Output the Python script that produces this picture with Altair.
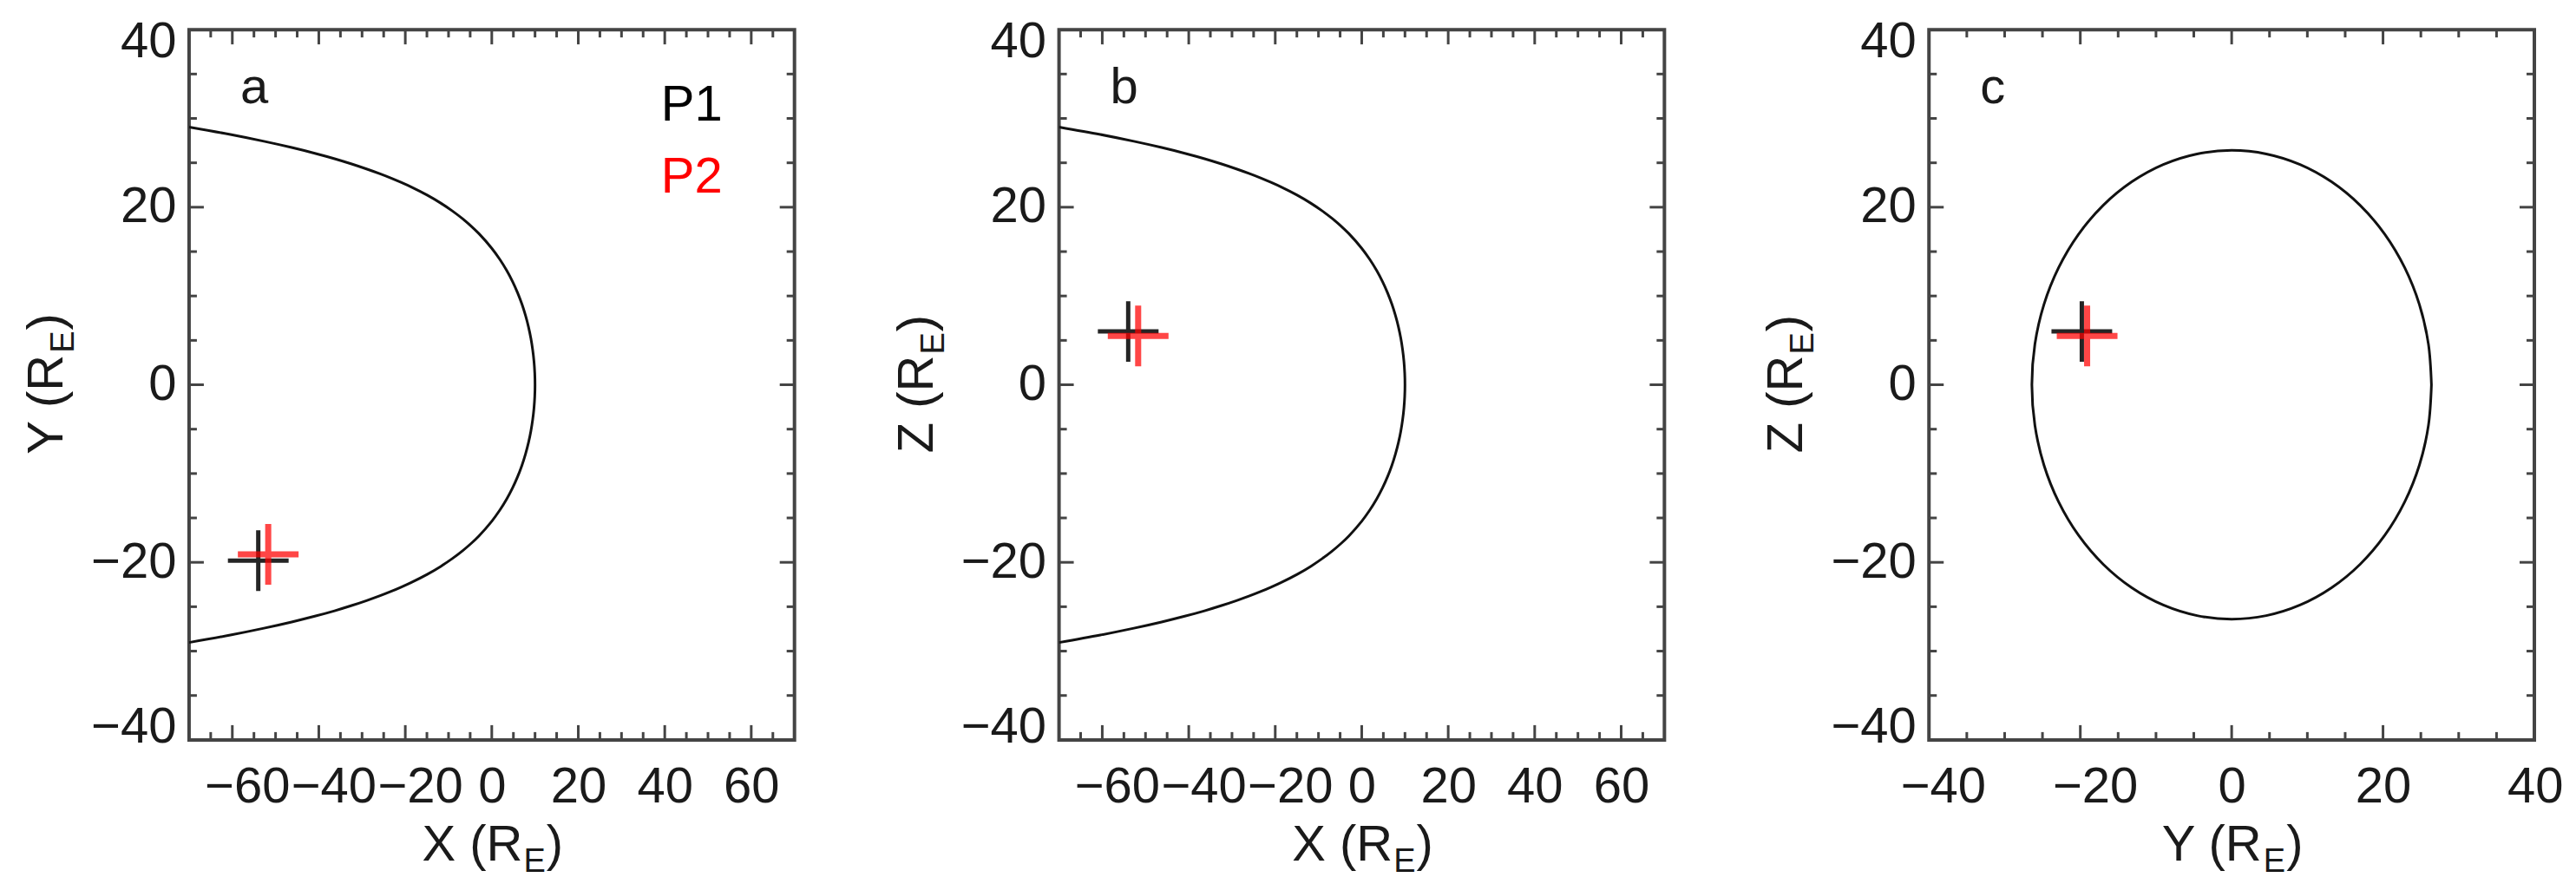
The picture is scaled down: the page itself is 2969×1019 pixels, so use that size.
import altair as alt
import pandas as pd

FONT = "Liberation Sans"
W, H = 698, 819
FS = 58
SUB = 38
FRAME = "#444444"
TXT = "#1a1a1a"

bound_h = [-70.00, -60.45, -52.68, -46.27, -40.92, -36.35, -32.41, -28.97, -25.95, -23.27,
           -20.87, -18.70, -14.95, -11.81, -9.13, -6.81, -4.79, -3.00, 0.00, 1.86,
           3.45, 4.81, 5.98, 6.97, 7.80, 8.49, 9.04, 9.46, 9.76, 9.94,
           10.00,
           9.94, 9.76, 9.46, 9.04, 8.49, 7.80, 6.97, 5.98, 4.81, 3.45,
           1.86, 0.00, -3.00, -4.79, -6.81, -9.13, -11.81, -14.95, -18.70, -20.87,
           -23.27, -25.95, -28.97, -32.41, -36.35, -40.92, -46.27, -52.68, -60.45, -70.00]
bound_v = [29.03, 28.19, 27.42, 26.72, 26.07, 25.46, 24.87, 24.31, 23.78, 23.27,
           22.77, 22.29, 21.36, 20.46, 19.58, 18.72, 17.88, 17.04, 15.37, 14.12,
           12.87, 11.62, 10.35, 9.08, 7.80, 6.51, 5.22, 3.92, 2.62, 1.31,
           0.00,
           -1.31, -2.62, -3.92, -5.22, -6.51, -7.80, -9.08, -10.35, -11.62, -12.87,
           -14.12, -15.37, -17.04, -17.88, -18.72, -19.58, -20.46, -21.36, -22.29, -22.77,
           -23.27, -23.78, -24.31, -24.87, -25.46, -26.07, -26.72, -27.42, -28.19, -29.03]

# cross-section in the Y-Z plane (panel c)
ring_y = [26.40, 26.00, 24.81, 22.86, 20.22, 16.97, 13.20, 9.03, 4.58, 0.00,
          -4.58, -9.03, -13.20, -16.97, -20.22, -22.86, -24.81, -26.00, -26.40,
          -26.00, -24.81, -22.86, -20.22, -16.97, -13.20, -9.03, -4.58, 0.00,
          4.58, 9.03, 13.20, 16.97, 20.22, 22.86, 24.81, 26.00, 26.40]
ring_z = [0.00, 4.58, 9.03, 13.20, 16.97, 20.22, 22.86, 24.81, 26.00, 26.40,
          26.00, 24.81, 22.86, 20.22, 16.97, 13.20, 9.03, 4.58, 0.00,
          -4.58, -9.03, -13.20, -16.97, -20.22, -22.86, -24.81, -26.00, -26.40,
          -26.00, -24.81, -22.86, -20.22, -16.97, -13.20, -9.03, -4.58, 0.00]

# spacecraft positions
point_names = ["P1", "P2"]
point_x = [-54.0, -51.7]
point_y = [-19.8, -19.1]
point_z = [6.0, 5.5]
point_colors = ["#000000", "#ff0000"]

# axis ticks / labels
xy_labels_wide = [-60, -40, -20, 0, 20, 40, 60]
minor_wide = [-65, -55, -50, -45, -35, -30, -25, -15, -10, -5, 5, 10, 15, 25, 30, 35, 45, 50, 55, 65]
labels_40 = [-40, -20, 0, 20, 40]
major_inner_40 = [-20, 0, 20]
minor_40 = [-35, -30, -25, -15, -10, -5, 5, 10, 15, 25, 30, 35]

CW = {"X": 0.667, "Y": 0.667, "Z": 0.611, " ": 0.278, "(": 0.333, "R": 0.722, ")": 0.333, "E": 0.667}


def tw(s, fs):
    return sum(CW[c] for c in s) * fs


def text_layer(txt, x, y, fs, color=TXT, align="left", angle=0):
    kw = dict(align=align, baseline="alphabetic", fontSize=fs, font=FONT, color=color)
    if angle:
        kw["angle"] = angle
    return alt.Chart(pd.DataFrame({"t": [txt]})).mark_text(**kw).encode(
        x=alt.value(x), y=alt.value(y), text="t:N")


def x_title(letter):
    main = letter + " (R"
    wm, we, wp = tw(main, FS), tw("E", SUB), tw(")", FS)
    x0 = W / 2 - (wm + we + wp) / 2
    yb = H + 139
    return [text_layer(main, x0, yb, FS),
            text_layer("E", x0 + wm + 1, yb + 13, SUB),
            text_layer(")", x0 + wm + we + 2, yb, FS)]


def y_title(letter):
    main = letter + " (R"
    wm, we, wp = tw(main, FS), tw("E", SUB), tw(")", FS)
    y0 = H / 2 + (wm + we + wp) / 2
    xb = -146
    return [text_layer(main, xb, y0, FS, angle=270),
            text_layer("E", xb + 13, y0 - wm - 1, SUB, angle=270),
            text_layer(")", xb, y0 - wm - we - 2, FS, angle=270)]


def tick_layers(xs, ys, xmaj, xmin, ymaj, ymin):
    out = []
    for vals, L in ((xmaj, 17), (xmin, 9)):
        base = alt.Chart(pd.DataFrame({"t": vals})).mark_rule(color=FRAME, strokeWidth=3)
        xe = alt.X("t:Q", scale=xs, title=None)
        out.append(base.encode(x=xe, y=alt.value(0), y2=alt.value(L)))
        out.append(base.encode(x=xe, y=alt.value(H), y2=alt.value(H - L)))
    for vals, L in ((ymaj, 17), (ymin, 9)):
        base = alt.Chart(pd.DataFrame({"t": vals})).mark_rule(color=FRAME, strokeWidth=3)
        ye = alt.Y("t:Q", scale=ys, title=None)
        out.append(base.encode(y=ye, x=alt.value(0), x2=alt.value(L)))
        out.append(base.encode(y=ye, x=alt.value(W), x2=alt.value(W - L)))
    return out


def panel(letter, hname, vname, xdom, ydom, xlabels, xmajor, xminor,
          curve_h, curve_v, p_h, p_v, xflush_off, legend=False):
    xs = alt.Scale(domain=xdom, nice=False, zero=False)
    ys = alt.Scale(domain=ydom, nice=False, zero=False)
    neg_shift = {"condition": {"test": f"datum.value < 0 && datum.value > {xdom[0]}", "value": 17},
                 "value": 0}
    xaxis = alt.Axis(values=xlabels, labelPadding=26, labelOffset=neg_shift,
                     labelFlush=True, labelFlushOffset=xflush_off)
    yaxis = alt.Axis(values=labels_40, labelPadding=15, labelFlush=True, labelFlushOffset=15)
    cdf = pd.DataFrame({"h": curve_h, "v": curve_v, "i": list(range(len(curve_h)))})
    curve = alt.Chart(cdf).mark_line(color="#111111", strokeWidth=3, clip=True,
                                     interpolate="catmull-rom").encode(
        x=alt.X("h:Q", scale=xs, axis=xaxis, title=None),
        y=alt.Y("v:Q", scale=ys, axis=yaxis, title=None),
        order="i:Q")
    pdf = pd.DataFrame({"name": point_names, "h": p_h, "v": p_v, "c": point_colors})
    shape = "M-1,0L1,0M0,-1L0,1"
    crosses = []
    for nm, sw, op in (("P1", 5, 0.85), ("P2", 7, 0.72)):
        crosses.append(alt.Chart(pdf).transform_filter(alt.datum.name == nm).mark_point(
            shape=shape, size=4900, filled=False, strokeWidth=sw, opacity=op, strokeCap="butt").encode(
            x=alt.X("h:Q", scale=xs, title=None),
            y=alt.Y("v:Q", scale=ys, title=None),
            stroke=alt.Stroke("c:N", scale=None)))
    layers = [curve] + tick_layers(xs, ys, xmajor, xminor, major_inner_40, minor_40) + crosses
    layers.append(text_layer(letter, 59, 85, FS))
    if legend:
        layers.append(text_layer(point_names[0], 544, 105, FS, color=point_colors[0]))
        layers.append(text_layer(point_names[1], 544, 188, FS, color=point_colors[1]))
    layers += x_title(hname) + y_title(vname)
    return alt.layer(*layers).properties(width=W, height=H)


pa = panel("a", "X", "Y", [-70, 70], [-40, 40], xy_labels_wide, xy_labels_wide,
           minor_wide, bound_h, bound_v, point_x, point_y, 0, legend=True)
pb = panel("b", "X", "Z", [-70, 70], [-40, 40], xy_labels_wide, xy_labels_wide,
           minor_wide, bound_h, bound_v, point_x, point_z, 0)
pc = panel("c", "Y", "Z", [-40, 40], [-40, 40], labels_40, major_inner_40,
           minor_40, ring_y, ring_z, point_y, point_z, 33)

chart = alt.hconcat(pa, pb, pc, spacing=305, bounds="flush").properties(
    padding={"left": 15, "top": 9, "right": 5, "bottom": 2},
    background="white",
).configure_view(stroke=FRAME, strokeWidth=4).configure_axis(
    labelFont=FONT, labelFontSize=FS, labelColor=TXT,
    domain=False, ticks=False, grid=False,
)

chart.save("out.html", embed_options={"renderer": "svg", "actions": False})
